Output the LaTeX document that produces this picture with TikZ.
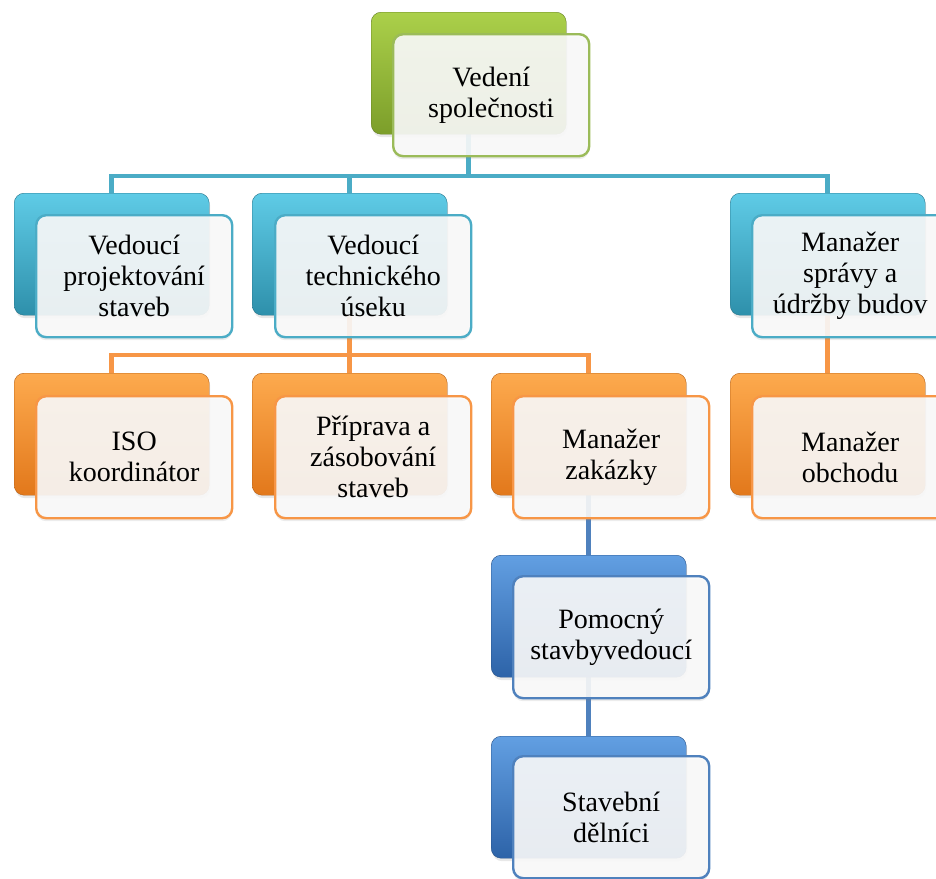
\documentclass[tikz,border=0pt]{standalone}
\usepackage{fontspec}
\setmainfont{Liberation Serif}
\usetikzlibrary{shadows}
\pgfdeclarelayer{background}
\pgfsetlayers{background,main}

% colour families: top / bottom of the solid card, outline of the label card
\definecolor{grn-top}{HTML}{ABD04A}
\definecolor{grn-bot}{HTML}{7C9E2A}
\definecolor{grn-line}{HTML}{9BBB59}
\definecolor{cya-top}{HTML}{5FCBE6}
\definecolor{cya-bot}{HTML}{2E90AB}
\definecolor{cya-line}{HTML}{4BACC6}
\definecolor{org-top}{HTML}{FDAA4E}
\definecolor{org-bot}{HTML}{E2781B}
\definecolor{org-line}{HTML}{F79646}
\definecolor{nav-top}{HTML}{629FE2}
\definecolor{nav-bot}{HTML}{2D63A8}
\definecolor{nav-line}{HTML}{4F81BD}

\tikzset{
  backbox/.style={rounded corners=10pt, minimum width=195pt, minimum height=122pt,
    inner sep=0pt, anchor=north west, top color=#1-top, bottom color=#1-bot,
    draw=#1-bot!80!black, line width=0.4pt,
    drop shadow={opacity=0.18, shadow xshift=1pt, shadow yshift=-3pt}},
  frontbox/.style={rounded corners=10pt, minimum width=196pt, minimum height=122pt,
    inner sep=0pt, anchor=north west, draw=#1-line, line width=2.4pt,
    fill=gray!5, fill opacity=0.91, text opacity=1, align=center,
    font=\fontsize{28}{31}\selectfont,
    drop shadow={opacity=0.15, shadow xshift=0pt, shadow yshift=-3pt}},
  link/.style={draw=#1-line, line width=4.5pt}
}

\begin{document}
\begin{tikzpicture}[x=1pt, y=-1pt]
  \path[use as bounding box] (0,0) rectangle (936,878);
  \clip (0,0) rectangle (936,878);

  % top level
  \node[backbox=grn] (bTop) at (371,12) {};
  \node[frontbox=grn] (fTop) at (392,33) {Vedení\\společnosti};

  % second level
  \node[backbox=cya] (bA) at (14,193) {};
  \node[frontbox=cya] (fA) at (35,214) {Vedoucí\\projektování\\staveb};
  \node[backbox=cya] (bB) at (252,193) {};
  \node[frontbox=cya] (fB) at (274,214) {Vedoucí\\technického\\úseku};
  \node[backbox=cya] (bC) at (730,193) {};
  \node[frontbox=cya] (fC) at (751,214) {Manažer\\správy a\\údržby budov};

  % third level
  \node[backbox=org] (bD) at (14,373) {};
  \node[frontbox=org] (fD) at (35,395) {ISO\\koordinátor};
  \node[backbox=org] (bE) at (252,373) {};
  \node[frontbox=org] (fE) at (274,395) {Příprava a\\zásobování\\staveb};
  \node[backbox=org] (bF) at (491,373) {};
  \node[frontbox=org] (fF) at (512,395) {Manažer\\zakázky};
  \node[backbox=org] (bG) at (730,373) {};
  \node[frontbox=org] (fG) at (751,395) {Manažer\\obchodu};

  % fourth and fifth level
  \node[backbox=nav] (bH) at (491,555) {};
  \node[frontbox=nav] (fH) at (512,575) {Pomocný\\stavbyvedoucí};
  \node[backbox=nav] (bI) at (491,736) {};
  \node[frontbox=nav] (fI) at (512,755) {Stavební\\dělníci};

  % connectors behind the cards
  \begin{pgfonlayer}{background}
    \coordinate (busA) at (0,176);
    \coordinate (busB) at (0,355);
    \draw[link=cya] (bTop.south) -- (bTop.south |- busA);
    \draw[link=cya] (bA.north) |- (bTop.south |- busA) -| (bC.north);
    \draw[link=cya] (bB.north) -- (bB.north |- busA);
    \draw[link=org] (bB.south) -- (bB.south |- busB);
    \draw[link=org] (bD.north) |- (bB.south |- busB) -| (bF.north);
    \draw[link=org] (bE.north) -- (bE.north |- busB);
    \draw[link=org] (bC.south) -- (bG.north);
    \draw[link=nav] (bF.south) -- (bH.north);
    \draw[link=nav] (bH.south) -- (bI.north);
  \end{pgfonlayer}
\end{tikzpicture}
\end{document}
